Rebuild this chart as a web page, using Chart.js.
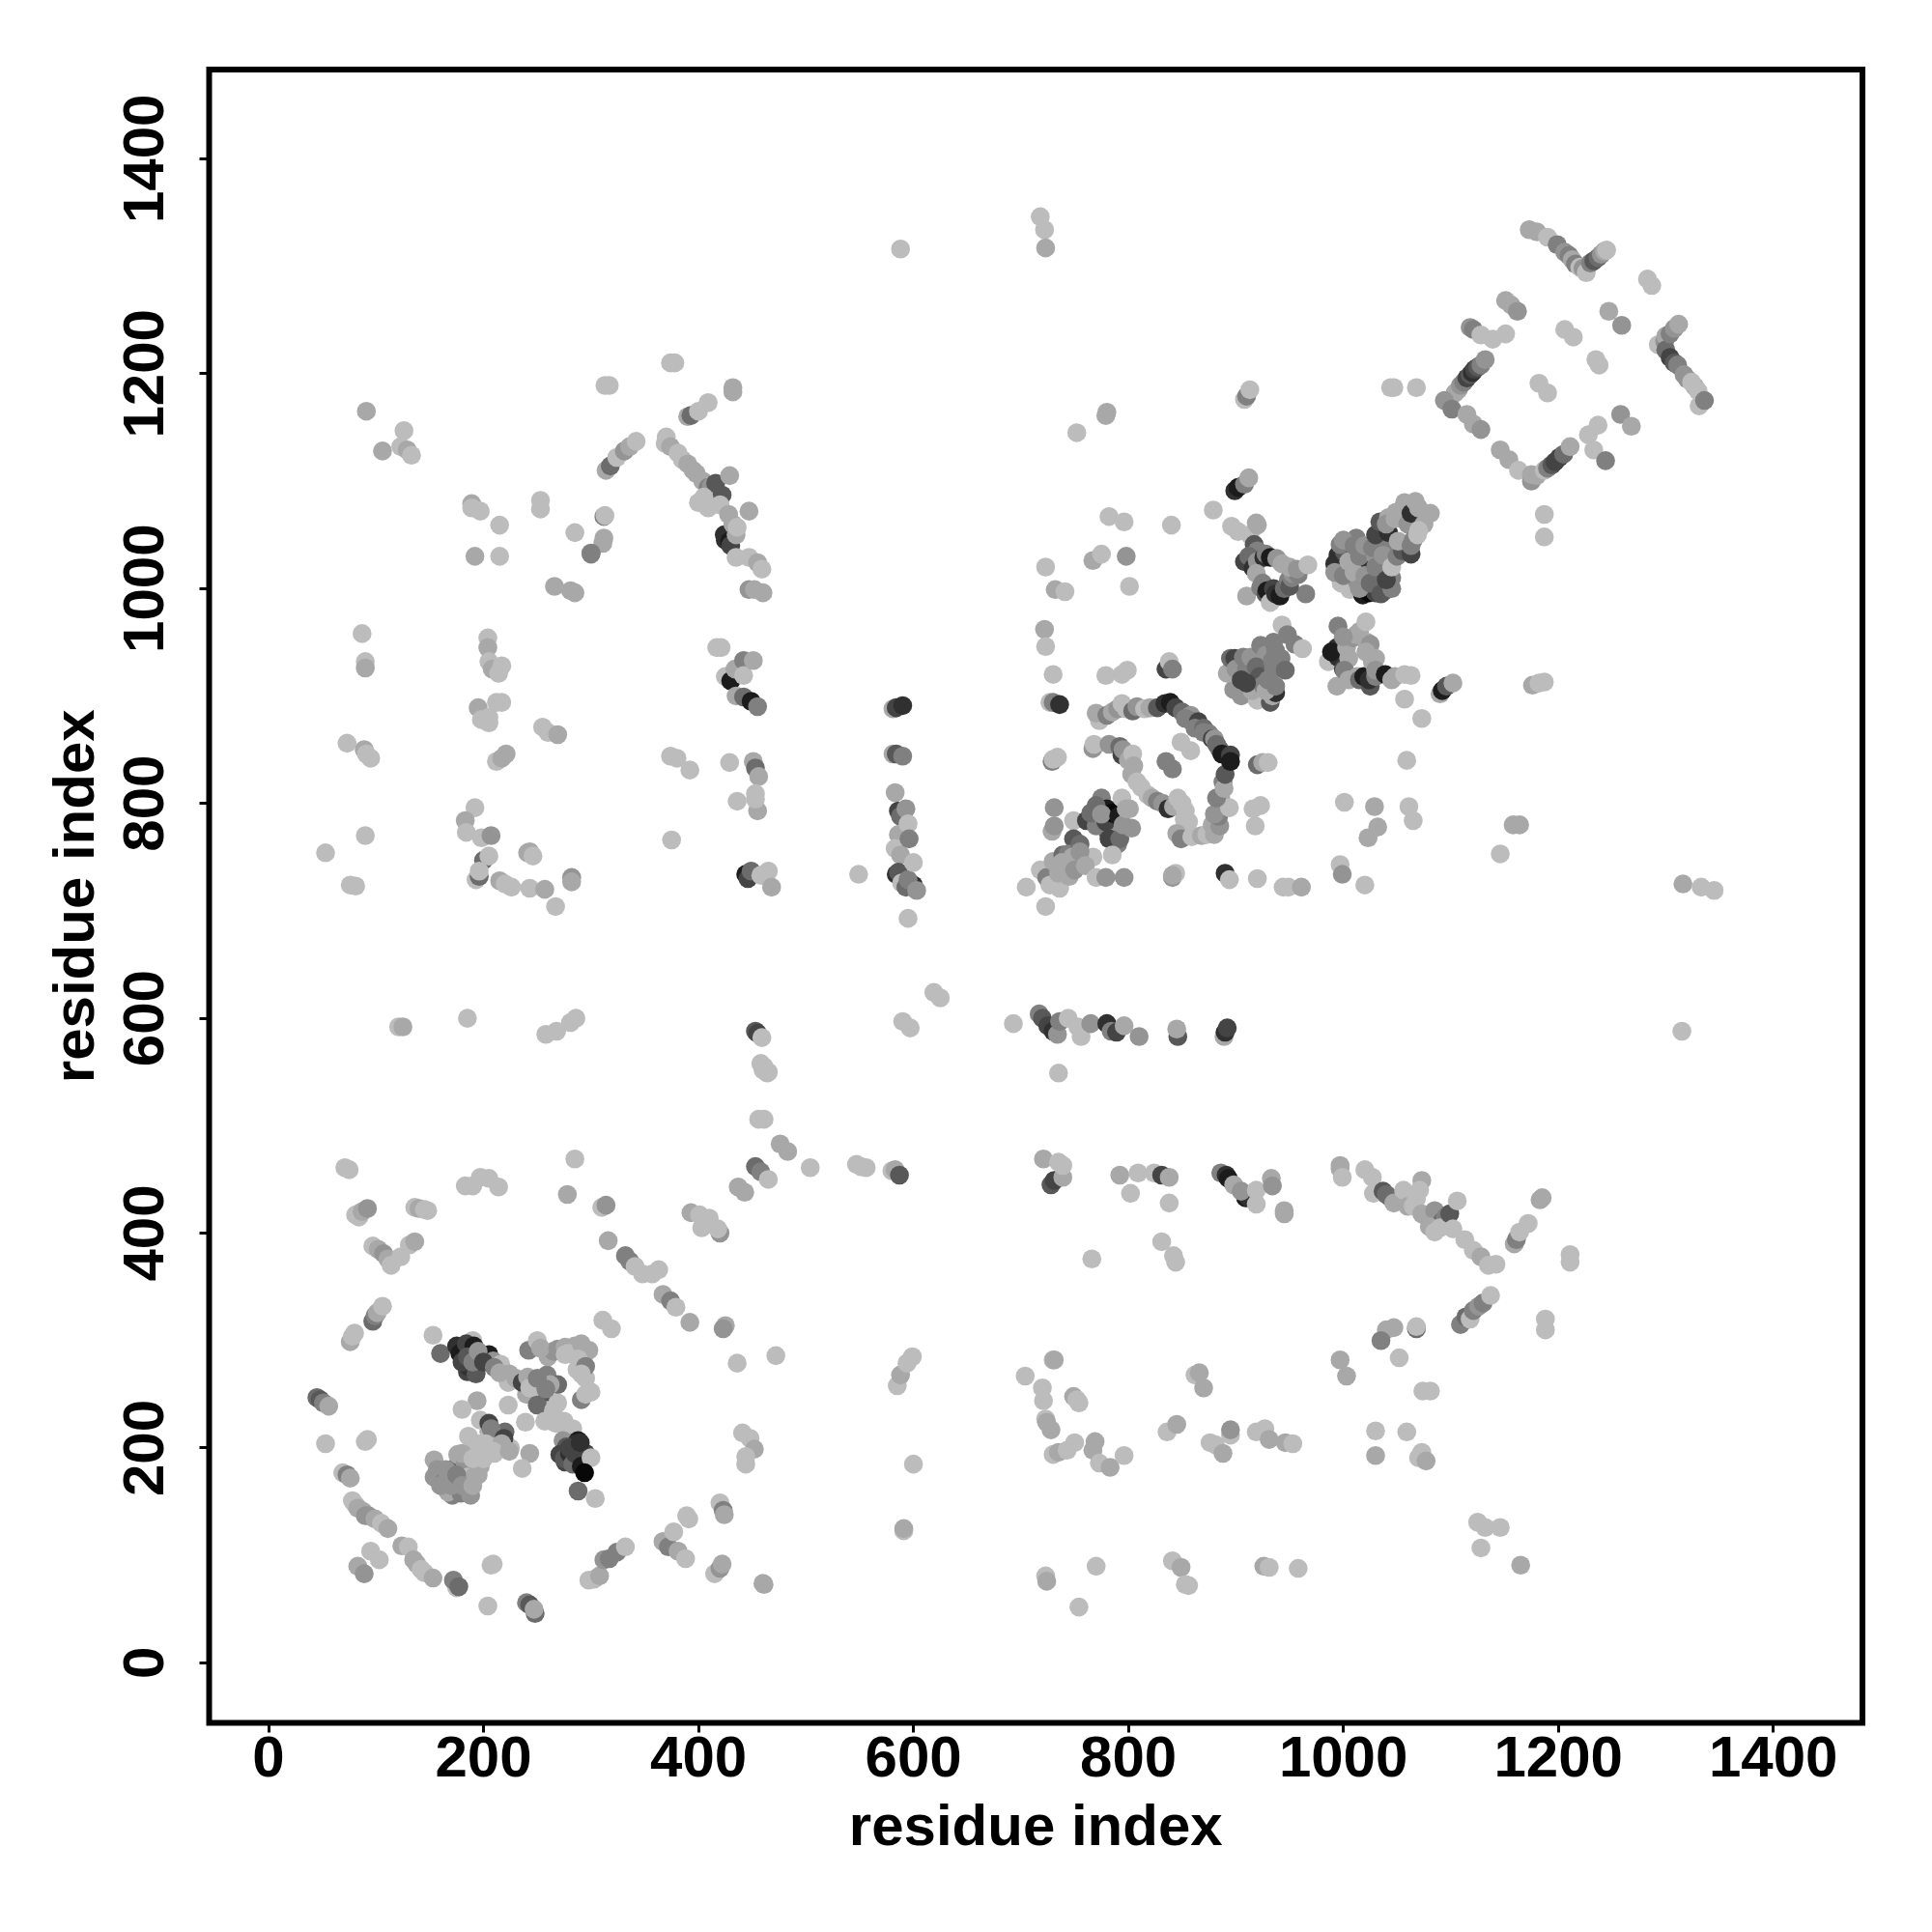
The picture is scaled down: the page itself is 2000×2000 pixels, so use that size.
<!DOCTYPE html>
<html>
<head>
<meta charset="utf-8">
<title>residue contacts</title>
<script src="https://cdn.jsdelivr.net/npm/chart.js@4"></script>
<style>
  html, body { margin: 0; padding: 0; background: #fff; }
  canvas { display: block; }
</style>
</head>
<body>
<canvas id="contact-map" width="2000" height="2000"></canvas>
<script>
const tickValues = [0, 200, 400, 600, 800, 1000, 1200, 1400];
const axisLabel = "residue index";

// contacts, one x/y/score triple per patch, in drawing order
// score 0 is the palest grey, 9 close to black

// ring around the first domain
const ringAx = [71,75,81,84,87,92,136,140,145,148];
const ringAy = [461,459,417,415,420,423,424,423,422,421];
const ringAs = [0,0,0,0,1,2,0,1,0,0];
const ringBx = [97,102,107,111,114,123,131,136];
const ringBy = [388,385,381,376,370,378,389,392];
const ringBs = [0,1,2,1,0,0,0,1];
const ringCx = [76,78,80,97,99,101,106];
const ringCy = [299,304,307,318,323,326,332];
const ringCs = [1,0,0,4,3,1,0];
const ringDx = [45,48,51,56,53,90,92,69,73,76];
const ringDy = [247,245,242,239,204,206,208,177,175,172];
const ringDs = [4,5,3,1,0,0,0,0,3,1];
const ringEx = [78,81,83,88,90,93,99,105,111];
const ringEy = [151,147,144,141,137,137,134,130,125];
const ringEs = [0,0,1,1,2,2,1,0,1];
const ringFx = [124,130,135,138,142,145,153,95,103,83,89];
const ringFy = [109,108,96,92,87,84,79,104,96,90,83];
const ringFs = [1,0,1,1,0,0,1,0,0,1,2];
const ringGx = [175,172,177,207,209,204,248,240,243,247];
const ringGy = [70,77,71,91,92,53,46,56,54,50];
const ringGs = [0,3,4,0,0,0,4,3,5,1];
const ringHx = [298,303,308,312,317,324,332];
const ringHy = [77,78,81,96,97,103,108];
const ringHs = [0,0,1,2,3,3,0];
const ringIx = [367,372,381,388,377,391,389,420,423,424,415,420,422,460,461];
const ringIy = [113,108,104,97,122,134,137,149,142,138,83,88,92,74,73];
const ringIs = [1,3,1,0,0,0,0,0,3,1,0,2,1,1,1];
const ringJx = [441,448,452,444,444,436,472,425,423,392,311,319,278];
const ringJy = [214,209,199,185,192,279,286,314,311,317,319,311,436];
const ringJs = [0,0,1,0,0,0,0,1,2,1,0,0,1];
const ringKx = [310,314,316,332,336,341,348,357,363,367,374,379];
const ringKy = [424,426,393,379,374,369,362,362,366,343,337,331];
const ringKs = [0,2,1,3,3,0,0,0,0,1,3,0];
const ringLx = [393,401,410,420,418,403,437,443,453,458,465];
const ringLy = [419,417,414,400,404,405,443,438,462,457,450];
const ringLs = [1,0,0,2,0,0,1,1,4,3,0];
const ringMx = [183,190,197,205,214,285];
const ringMy = [444,444,452,451,443,469];
const ringMs = [0,0,0,0,0,0];

// X shape in the first domain
const crossAx = [153,160,190,185,194,175,178,184,186,191,195,193,205,209,216,224,223];
const crossAy = [305,288,300,271,273,295,288,297,276,295,287,269,287,281,278,269,261];
const crossAs = [0,4,0,6,0,7,8,6,7,8,7,5,8,2,0,1,0];
const crossGx = [180,185,190,195,200,210,215,230,240,250];
const crossGy = [280,285,280,290,280,275,270,265,250,250];
const crossGs = [6,5,3,2,6,3,1,1,1,1];
const crossBx = [236,255,241,243,253,259,269,246,262,269,260];
const crossBy = [261,242,266,256,245,268,259,256,259,242,235];
const crossBs = [6,6,1,0,5,3,4,0,1,0,0];
const crossHx = [250,250,258,265,275,260,265,285,290,295];
const crossHy = [240,265,255,235,225,285,290,295,285,265];
const crossHs = [4,3,3,0,0,1,2,1,2,0];
const crossCx = [242,250,253,269,276,279,276,291,298,288,287,295,291,291,295,300];
const crossCy = [291,300,293,292,294,288,287,297,291,283,273,276,269,245,250,252];
const crossCs = [3,0,1,2,1,0,0,1,1,0,0,3,0,3,0,0];
const crossDx = [257,267,274,283,274,288,286,277,271,289,284,276,275,280,280,283,285,295,290,291,288,304,300,294];
const crossDy = [225,223,221,218,207,207,204,201,194,197,190,187,190,195,200,185,195,195,205,183,160,153,191,177];
const crossDs = [0,0,0,0,2,8,7,5,6,8,7,6,5,7,6,4,6,6,7,8,4,0,0,9];
const crossEx = [154,154,157,164,171,167,174,179,176,183,188,185,186,191,195,197];
const crossEy = [189,173,180,170,156,159,182,158,194,185,156,173,197,173,199,183];
const crossEs = [1,2,2,3,3,1,4,3,1,2,2,0,0,1,0,1];
const crossIx = [160,165,170,175,180,190,195,180,190,200,205,205,210,215,215,220,225];
const crossIy = [165,180,165,175,165,165,175,195,190,190,215,210,195,205,210,215,200];
const crossIs = [2,2,2,3,2,1,1,1,0,0,1,0,0,1,0,4,0];
const crossFx = [197,205,207,219,186,195,202,217,209,224,194,180,223,239,243,236];
const crossFy = [226,223,218,209,211,204,204,204,197,197,244,236,240,224,195,181];
const crossFs = [0,6,3,6,0,0,0,1,0,1,1,0,0,0,1,0];

// columns and rows away from the diagonal
const colAx = [581,584,590,581,584,590,583,584,586,588,593,586,595,583,588,596];
const colAy = [888,889,891,846,846,844,810,734,793,788,795,771,781,758,752,767];
const colAs = [1,6,7,1,5,3,1,7,6,4,2,1,0,0,1,3];
const colBx = [586,589,600,593,595,600,603,595,549];
const colBy = [736,726,724,722,729,745,719,693,734];
const colBs = [5,0,7,4,3,0,2,0,0];
const colCx = [722,723,730,727,730,736,729,730,734,729,731,731,749];
const colCy = [962,946,920,894,894,892,839,841,843,774,796,779,784];
const colCs = [1,0,0,0,3,7,3,0,0,1,2,2,0];
const rowAx = [693,717,720,725,730,734,736,744,753,756,765,780,784,789,796,810];
const rowAy = [595,604,600,593,588,585,597,600,592,583,595,595,588,587,593,583];
const rowAs = [0,3,5,6,7,2,3,0,0,0,2,7,3,6,1,2];
const rowBx = [846,845,889,890,892,735,619,625,590,597,1315];
const rowBy = [583,590,583,587,591,549,624,619,597,591,588];
const rowBs = [5,1,1,7,6,0,0,0,0,0,0];

// second domain, diagonal patch and ring
const diagAx = [718,724,727,736,730,749,739,744,755,742,749,758,767];
const diagAy = [738,731,724,721,746,767,752,753,762,736,743,747,750];
const diagAs = [0,3,0,0,1,5,4,3,4,2,0,1,0];
const diagDx = [735,738,745,748,750,755,760,780,785,790];
const diagDy = [735,745,732,750,738,755,742,775,775,762];
const diagDs = [1,1,1,1,2,2,1,4,2,3];
const diagBx = [761,770,782,792,785,765,775,779,780,785,770,775,791,794,795,798,801,803];
const diagBy = [784,779,767,767,752,791,805,783,795,791,798,790,788,805,780,795,795,777];
const diagBs = [6,3,6,4,0,4,3,6,8,9,4,2,8,0,2,1,1,2];
const diagCx = [770,779,796,841,844,890,894,841,920,944,949,961,997,999,705,723];
const diagCy = [731,731,731,731,735,735,729,733,730,722,722,722,743,734,722,704];
const diagCs = [0,2,2,2,0,7,0,1,0,0,0,1,0,2,0,0];
const loopAx = [773,770,780,785,790,794,798,804,808,815,820,827,834,839,844,850,858];
const loopAy = [877,884,882,885,888,893,888,886,890,888,889,889,893,894,889,885,882];
const loopAs = [0,1,3,1,2,0,0,4,2,0,1,5,7,8,6,4,2];
const loopBx = [767,768,782,792,794,795,800,804,803,805,808,812,818,822,827,832,837,842,846,850,853,852,855,856,845,849,859];
const loopBy = [851,855,855,853,845,850,840,846,827,835,820,815,808,805,802,800,795,797,805,800,793,785,775,783,772,767,769];
const loopBs = [2,0,2,4,6,2,1,0,1,1,0,0,0,1,3,2,7,1,0,0,0,0,0,0,1,3,0];
const loopCx = [835,841,849,858];
const loopCy = [839,832,857,849];
const loopCs = [3,3,0,0];
const loopDx = [868,873,878,880,885,886,884,880,894,882,888,889,890,853,858,865,862,870,870,875,878,880,882,885,887,895,895];
const loopDy = [770,771,780,771,779,805,788,790,796,805,820,814,827,879,877,876,870,870,866,865,860,860,855,850,846,845,839];
const loopDs = [1,0,1,1,2,1,3,2,0,3,3,1,5,3,3,6,3,4,3,3,6,2,4,4,8,6,8];
const loopEx = [920,925,930,916,918,923,1001,835,838,841,779,794,799,732,741,801];
const loopEy = [836,838,838,795,779,798,801,925,932,925,919,920,924,999,997,1002];
const loopEs = [4,1,0,0,0,0,0,6,0,3,0,0,0,1,0,0];

// below the diagonal, middle of the picture
const lowAx = [460,464,461,456,476,483,504,547,556,551,580,583,587];
const lowAy = [552,549,506,506,483,476,461,464,461,462,458,459,454];
const lowAs = [0,0,0,0,1,1,0,0,0,0,0,1,5];
const lowBx = [721,728,731,739,735,739,792,809,802,838,824,831,838,831,842,844,766];
const lowBy = [469,445,449,452,466,463,454,456,437,428,456,454,452,392,379,373,376];
const lowBs = [1,5,6,1,0,0,1,0,0,0,0,6,1,0,0,0,0];
const lowCx = [886,891,893,909,912,898,905,919,919,933,934,945,945];
const lowCy = [456,454,451,433,433,445,439,427,440,451,444,421,418];
const lowCs = [3,7,8,8,7,1,2,0,0,1,2,1,1];
const lowDx = [704,730,731,720,721,749,752,754,723,724,728,730,735,743,750];
const lowDy = [267,282,282,256,244,248,245,242,227,224,217,194,196,198,205];
const lowDs = [0,0,1,0,0,1,0,0,0,1,1,0,1,0,0];
const lowEx = [767,769,773,783,796,836,845,876,881,888,895,895,919,927,931,946,953];
const lowEy = [198,206,186,182,193,215,222,205,203,195,212,217,215,218,208,205,204];
const lowEs = [1,1,0,1,0,0,1,0,0,1,0,2,0,0,1,1,0];
const lowFx = [862,866,870,585,588,594,599,600,591,591,723,724,770,754,841,849,853,856,926,931,958];
const lowFy = [268,270,256,258,268,279,285,185,123,125,81,76,90,52,95,89,73,72,90,89,88];
const lowFs = [0,1,1,0,1,0,0,0,0,1,0,1,0,0,0,1,0,0,1,0,0];
const lowGx = [997,997,999,1020,1027,1028];
const lowGy = [463,460,452,459,452,437];
const lowGs = [1,1,0,0,0,0];
const lowHx = [1037,1044,1040,1047,1056,1060,1073,1071,1068,1065,1073,1078,1085,1092,1095,1080,1085,1090,1099,1106,1102,1113,1121,1128,1135,1142];
const lowHy = [439,433,436,428,440,425,449,440,432,425,418,415,421,411,415,406,401,405,418,430,404,394,384,378,370,371];
const lowHs = [5,5,4,1,0,1,1,0,0,0,1,1,2,4,3,1,0,0,5,0,0,0,0,1,0,0];
const lowIx = [1185,1183,1159,1161,1164,1172,1211,1211];
const lowIy = [433,431,390,394,401,409,380,373];
const lowIs = [1,1,1,3,0,0,0,0];
const lowJx = [1109,1114,1118,1121,1126,1130,1137,1188,1188,1068,1068,1047,1040,1035];
const lowJy = [315,322,320,328,332,335,342,320,310,311,313,312,310,300];
const lowJs = [3,4,0,3,2,3,0,0,0,4,0,1,1,3];
const lowKx = [1052,997,1003,1074,1081,1030,1030,1059,1070,1073,1077,1125,1132,1146,1128,1165];
const lowKy = [284,282,267,253,253,216,193,215,191,196,188,131,126,126,107,91];
const lowKs = [0,1,1,0,0,0,1,0,0,0,1,0,0,0,0,1];

// left side, middle rows
const leftAx = [87,90,90,204,204,205,208,214,217,417,421];
const leftAy = [958,932,926,954,945,932,925,921,928,945,945];
const leftAs = [0,0,1,0,1,0,1,0,0,0,0];
const leftBx = [425,430,435,434,442,442,442,451,449,455];
const leftBy = [918,914,900,925,933,919,899,933,895,890];
const leftBs = [0,8,1,1,3,0,4,1,8,3];
const leftCx = [73,89,91,95,195,198,205,205,212,217,255,260,269,212,217,221];
const leftCy = [856,850,846,842,889,878,880,875,894,894,871,866,864,839,842,846];
const leftCs = [0,1,0,0,1,0,0,0,0,0,0,0,1,0,1,1];
const leftDx = [374,380,392,429,451,453,456,455,453,436,453];
const leftDy = [844,842,831,838,839,833,825,793,804,802,809];
const leftDs = [0,0,0,0,1,4,1,1,0,0,0];
const leftEx = [192,183,184,198,207,200,205,193,196,196];
const leftEy = [796,784,773,768,770,747,751,729,732,737];
const leftEs = [0,1,0,0,2,4,0,0,4,0];
const leftFx = [241,243,246,215,220,226,243,257,282,282,267,90,53,76,81,375];
const leftFy = [754,755,751,728,725,722,721,720,731,727,704,770,754,724,723,766];
const leftFs = [1,1,0,1,0,0,0,1,2,1,0,0,0,0,0,0];
const leftGx = [444,446,449,458,465,468];
const leftGy = [734,730,737,733,737,722];
const leftGs = [8,6,4,0,0,1];
const leftHx = [121,125,185,258,268,281,286,453,455,459,458,461,465];
const leftHy = [592,592,600,585,588,596,600,588,586,582,558,555,550];
const leftHs = [0,1,0,0,0,0,0,5,6,0,0,0,0];

// upper left arms
const upAx = [91,126,106,123,129,133,313,317,374,378,432,432];
const upAy = [1165,1147,1128,1132,1129,1124,1189,1189,1210,1210,1183,1187];
const upAs = [1,0,1,0,1,0,0,0,0,0,1,1];
const upBx = [390,393,400,409,314,318,324,331,336,342];
const upBy = [1160,1161,1165,1173,1110,1114,1122,1128,1132,1137];
const upBs = [1,4,0,0,1,4,0,2,1,0];
const upCx = [370,369,374,381,385,390,395,398,404,409,412,416,422,400,405,409,420,429,425,424,428];
const upCy = [1141,1135,1132,1126,1120,1116,1110,1107,1100,1094,1095,1098,1087,1080,1085,1075,1078,1105,1045,1050,1069];
const upCs = [0,0,1,0,0,1,1,1,1,3,2,5,5,0,0,0,0,1,7,7,1];
const upDx = [429,430,435,432,436,447,435,447,455,459,447,452,460];
const upDy = [1044,1040,1050,1060,1057,1072,1029,1029,1024,1018,999,999,996];
const upDs = [8,6,1,1,0,1,0,0,1,0,2,1,1];
const upEx = [189,189,197,215,192,215,253,253,312,313,285,311,312,300,300,266,281,285];
const upEy = [1079,1075,1072,1059,1030,1030,1082,1074,1067,1068,1052,1042,1047,1033,1032,1002,998,996];
const upEs = [1,0,0,0,1,0,0,0,3,0,0,1,1,3,3,1,1,1];

// top of the picture
const topAx = [588,718,722,723,908,910,913,780,779,752,899,902,908,912];
const topAy = [1316,1346,1334,1317,1176,1179,1185,1164,1161,1145,1091,1094,1097,1103];
const topAs = [0,0,0,1,0,3,0,1,1,0,7,8,3,1];
const topBx = [782,796,840,879,896,902,913,919,920,767,775,798,723];
const topBy = [1067,1062,1059,1073,1058,1053,1050,1061,1059,1026,1032,1030,1020];
const topBs = [0,0,0,0,0,0,0,1,1,1,0,2,0];

// X shape in the third domain, upper arm
const knotAx = [965,910,917,920,908,912,916,920,926,919,928,932,938,943];
const knotAy = [995,993,1041,1035,1025,1030,1019,1025,1029,1014,1032,1029,1028,1023];
const knotAs = [3,1,5,3,6,4,7,2,7,1,3,8,2,1];
const knotBx = [923,925,928,929,932,935,937,941,945,949,950,952,953,958,950,957,967];
const knotBy = [1001,1005,995,998,987,1000,995,993,1000,1008,1002,1010,1014,1013,1020,1018,1022];
const knotBs = [3,3,5,8,0,6,7,8,4,3,5,3,2,3,1,2,0];

// big patch on the diagonal
const bigAx = [998,1006,995,992,1001,997,1006,1013,1012,1018,1024,1030,1039,1034,1024,1021];
const bigAy = [1005,999,1031,1023,1034,1041,1016,1006,1047,994,996,996,998,1005,1014,1023];
const bigAs = [0,0,7,7,5,3,2,2,3,8,9,6,3,7,6,7];
const bigCx = [992,1000,1000,1005,1010,1010,1015,1015,1020,1020,1025,1030,1030,1035,1040,1045,1045];
const bigCy = [1015,1045,1012,1025,1040,1015,1030,1000,1040,1012,1005,1030,1020,995,1040,1010,1000];
const bigCs = [2,2,3,1,3,1,3,2,2,2,4,2,3,5,3,3,3];
const bigBx = [1027,1037,1040,1045,1030,1034,1042,1042,1050,1055,1051,1040,1049,1048,1060,1057,1063,1065,1067,1075,1070,1063,1063,1070,1069,1081];
const bigBy = [1038,1031,1008,1020,1050,1062,1052,1066,1030,1035,1044,1060,1071,1065,1060,1080,1070,1045,1081,1060,1075,1032,1040,1054,1050,1070];
const bigBs = [3,2,6,0,6,5,7,1,3,5,1,2,1,1,2,1,7,3,1,1,1,6,3,0,0,1];

// X shape in the third domain, lower arms
const armAx = [995,986,994,994,995,989,1003,1000,1009,1015,1012,1000,1005,1021,1001,1005,1013,1015,1025,1019,1024];
const armAy = [965,932,909,945,936,941,945,925,954,960,957,955,935,969,924,915,918,915,909,918,915];
const armAs = [3,0,1,7,7,8,1,6,2,1,1,2,1,0,3,1,1,4,5,8,7];
const armBx = [1030,1022,1025,1021,1027,1030,1030,1039,1045,1048,1057,1063,1057,1073,1059];
const armBy = [918,950,948,941,932,935,924,920,915,918,920,919,897,879,840];
const armBs = [3,1,2,1,1,1,2,8,1,1,0,0,0,0,0];
const armCx = [898,905,920,932,934,937,892,895,899,900,907,910,912,914,923,928];
const armCy = [906,900,896,894,900,903,921,935,935,925,936,925,935,936,947,938];
const armCs = [2,2,0,5,1,7,1,4,6,2,3,3,3,2,3,2];
const armDx = [919,922,915,925,928,930,905,910,937,934,935,937,942,946,935,943,948,955,962];
const armDy = [927,918,905,910,905,915,915,912,909,933,925,942,935,924,950,966,957,948,944];
const armDs = [4,5,1,3,1,3,6,6,3,3,3,3,3,4,3,0,3,3,0];
const armEx = [1090,1092,1096,1102,1176,1182,1187];
const armEy = [902,905,909,912,910,912,913];
const armEs = [1,8,5,1,1,0,0];

// last domain, upper right
const lastAx = [1173,1180,1190,1199,1206,1210,1213,1216,1220,1223,1226,1230,1233,1237,1240,1243,1245,1283,1287];
const lastAy = [1334,1332,1327,1320,1313,1310,1306,1302,1299,1298,1294,1303,1305,1308,1311,1314,1315,1288,1282];
const lastAs = [1,1,0,3,2,3,1,3,0,2,0,3,5,4,2,1,0,0,0];
const lastBx = [1151,1156,1162,1118,1121,1128,1139,1151];
const lastBy = [1268,1264,1258,1243,1241,1236,1232,1237];
const lastBs = [1,1,2,2,3,0,0,0];
const lastCx = [1104,1107,1109,1112,1115,1118,1120,1122,1125,1128,1132,1044,1047,1068];
const lastCy = [1182,1185,1189,1192,1196,1199,1201,1204,1206,1208,1213,1187,1187,1187];
const lastCs = [1,1,2,3,6,5,7,6,5,3,2,0,0,0];
const lastDx = [1094,1101,1115,1121,1128,1146,1154,1163,1175,1175,1180,1187,1190,1194,1197,1201,1205,1211];
const lastDy = [1175,1167,1162,1153,1148,1129,1120,1110,1100,1106,1105,1110,1112,1115,1118,1122,1125,1132];
const lastDs = [2,3,1,1,2,1,1,0,2,1,1,0,3,5,6,6,4,1];
const lastEx = [1228,1237,1233,1244,1258,1268,1182,1190,1206,1214,1235,1238,1247,1259,1187,1187];
const lastEy = [1143,1152,1129,1119,1162,1151,1191,1182,1241,1234,1213,1208,1258,1245,1069,1048];
const lastEs = [0,0,0,3,2,1,0,0,0,0,0,0,1,2,0,0];
const lastFx = [1293,1299,1300,1300,1304,1308,1312,1304,1308,1311,1317,1320,1327,1324,1331,1330,1336];
const lastFy = [1227,1230,1235,1222,1237,1242,1246,1215,1210,1208,1199,1195,1188,1192,1170,1184,1175];
const lastFs = [0,2,1,4,3,2,1,6,5,3,2,2,1,0,0,0,3];
const lastGx = [1316,1333,1345,1146,1158,1164,1061,1065,1029,1023,1032,1020];
const lastGy = [725,722,719,753,780,780,797,784,797,768,778,724];
const lastGs = [1,0,0,0,1,1,0,0,1,1,1,0];

const patches = [
  [ringAx,ringAy,ringAs],[ringBx,ringBy,ringBs],[ringCx,ringCy,ringCs],[ringDx,ringDy,ringDs],
  [ringEx,ringEy,ringEs],[ringFx,ringFy,ringFs],[ringGx,ringGy,ringGs],[ringHx,ringHy,ringHs],
  [ringIx,ringIy,ringIs],[ringJx,ringJy,ringJs],[ringKx,ringKy,ringKs],[ringLx,ringLy,ringLs],
  [ringMx,ringMy,ringMs],
  [crossAx,crossAy,crossAs],[crossGx,crossGy,crossGs],[crossBx,crossBy,crossBs],[crossHx,crossHy,crossHs],
  [crossCx,crossCy,crossCs],[crossDx,crossDy,crossDs],
  [crossEx,crossEy,crossEs],[crossIx,crossIy,crossIs],[crossFx,crossFy,crossFs],
  [colAx,colAy,colAs],[colBx,colBy,colBs],[colCx,colCy,colCs],[rowAx,rowAy,rowAs],[rowBx,rowBy,rowBs],
  [diagAx,diagAy,diagAs],[diagDx,diagDy,diagDs],[diagBx,diagBy,diagBs],[diagCx,diagCy,diagCs],
  [loopAx,loopAy,loopAs],[loopBx,loopBy,loopBs],[loopCx,loopCy,loopCs],[loopDx,loopDy,loopDs],[loopEx,loopEy,loopEs],
  [lowAx,lowAy,lowAs],[lowBx,lowBy,lowBs],[lowCx,lowCy,lowCs],[lowDx,lowDy,lowDs],[lowEx,lowEy,lowEs],
  [lowFx,lowFy,lowFs],[lowGx,lowGy,lowGs],[lowHx,lowHy,lowHs],[lowIx,lowIy,lowIs],[lowJx,lowJy,lowJs],[lowKx,lowKy,lowKs],
  [leftAx,leftAy,leftAs],[leftBx,leftBy,leftBs],[leftCx,leftCy,leftCs],[leftDx,leftDy,leftDs],
  [leftEx,leftEy,leftEs],[leftFx,leftFy,leftFs],[leftGx,leftGy,leftGs],[leftHx,leftHy,leftHs],
  [upAx,upAy,upAs],[upBx,upBy,upBs],[upCx,upCy,upCs],[upDx,upDy,upDs],[upEx,upEy,upEs],
  [topAx,topAy,topAs],[topBx,topBy,topBs],
  [knotAx,knotAy,knotAs],[knotBx,knotBy,knotBs],
  [bigAx,bigAy,bigAs],[bigCx,bigCy,bigCs],[bigBx,bigBy,bigBs],
  [armAx,armAy,armAs],[armBx,armBy,armBs],[armCx,armCy,armCs],[armDx,armDy,armDs],[armEx,armEy,armEs],
  [lastAx,lastAy,lastAs],[lastBx,lastBy,lastBs],[lastCx,lastCy,lastCs],[lastDx,lastDy,lastDs],
  [lastEx,lastEy,lastEs],[lastFx,lastFy,lastFs],[lastGx,lastGy,lastGs]
];

function scoreToGrey(score) {
  const g = 188 - 20 * score;
  return "rgb(" + g + "," + g + "," + g + ")";
}

function initChart() {
  const points = [];
  const colors = [];
  patches.forEach(function (patch) {
    patch[0].forEach(function (x, k) {
      points.push({ x: x, y: patch[1][k] });
      colors.push(scoreToGrey(patch[2][k]));
    });
  });

  const labelFont = { family: "'Liberation Sans', Arial, sans-serif", size: 60, weight: "bold" };
  const setTicks = function (scale) {
    scale.ticks = tickValues.map(function (v) { return { value: v }; });
  };
  const gridOpts = { drawOnChartArea: false, tickLength: 10, tickWidth: 3, tickColor: "#000" };

  // box around the plot, R style
  const framePlugin = {
    id: "frame",
    afterDatasetsDraw(chart) {
      const a = chart.chartArea;
      const c = chart.ctx;
      c.save();
      c.strokeStyle = "#000";
      c.lineWidth = 6;
      c.strokeRect(a.left, a.top, a.right - a.left, a.bottom - a.top);
      c.restore();
    }
  };

  return new Chart(document.getElementById("contact-map"), {
    type: "scatter",
    data: {
      datasets: [{
        data: points,
        pointRadius: 9.8,
        pointBackgroundColor: colors,
        pointBorderWidth: 0,
        showLine: false
      }]
    },
    options: {
      responsive: false,
      animation: false,
      layout: { padding: { top: 72, right: 72 } },
      plugins: { legend: { display: false }, tooltip: { enabled: false } },
      scales: {
        x: {
          type: "linear",
          min: -55.3,
          max: 1483,
          afterBuildTicks: setTicks,
          afterFit(scale) { scale.height = 216.5; },
          border: { display: false },
          grid: gridOpts,
          ticks: {
            autoSkip: false,
            maxRotation: 0,
            color: "#000",
            font: labelFont,
            padding: -7,
            callback: function (v) { return String(v); }
          },
          title: { display: true, text: axisLabel, color: "#000", font: labelFont, padding: { top: 0, bottom: 71 } }
        },
        y: {
          type: "linear",
          min: -55.8,
          max: 1483,
          afterBuildTicks: setTicks,
          afterFit(scale) { scale.width = 216.5; },
          border: { display: false },
          grid: gridOpts,
          ticks: {
            autoSkip: false,
            minRotation: 90,
            maxRotation: 90,
            crossAlign: "center",
            color: "#000",
            font: labelFont,
            padding: -13,
            callback: function (v) { return String(v); }
          },
          title: { display: true, text: axisLabel, color: "#000", font: labelFont, padding: { top: 44, bottom: 0 } }
        }
      }
    },
    plugins: [framePlugin]
  });
}

const contactChart = initChart();
</script>
</body>
</html>
